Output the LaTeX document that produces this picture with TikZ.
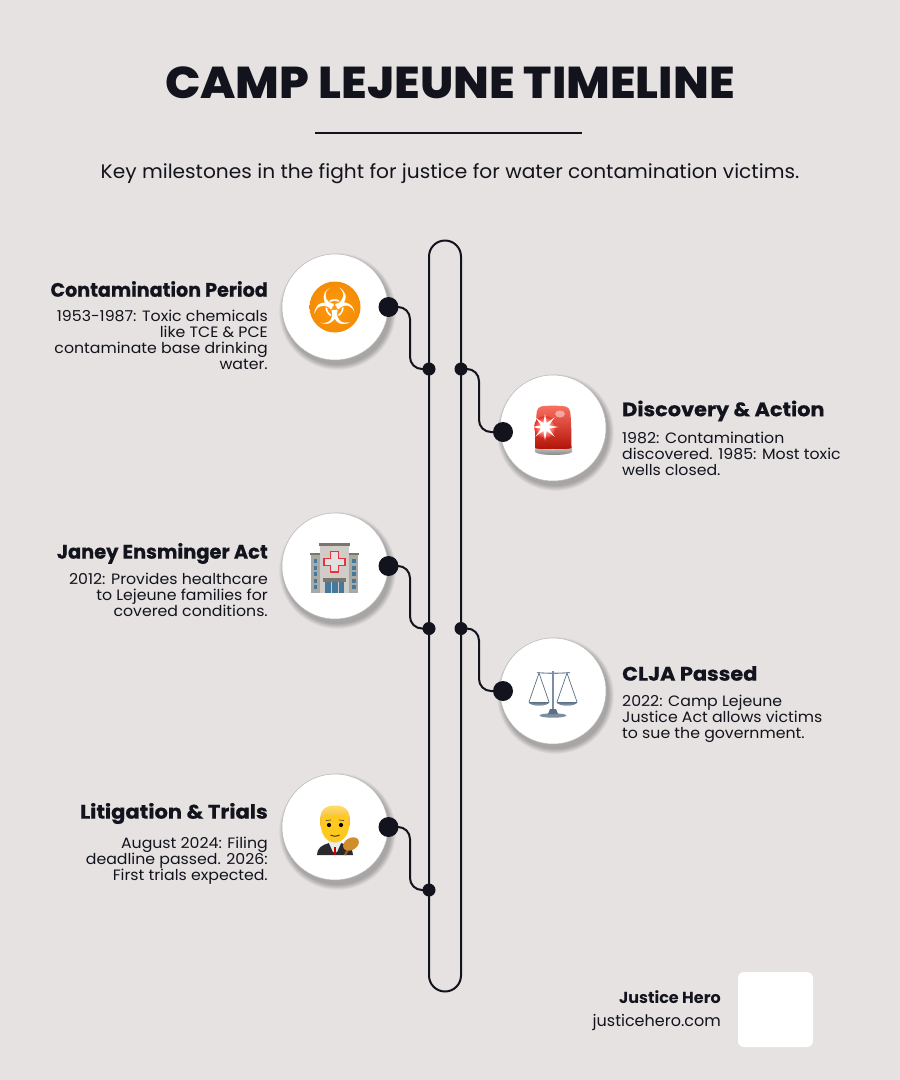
\documentclass[tikz,border=0pt]{standalone}
\usepackage{fontspec}
\usetikzlibrary{shapes.geometric}
\setmainfont{Poppins}
\newfontfamily\heavyfont{Poppins ExtraBold}[FakeStretch=1.05]
\newfontfamily\headfont{Poppins}[FakeBold=0.6]
\newfontfamily\bodyfont{Poppins}[FakeStretch=1.05]
\newfontfamily\subfont{Poppins}[FakeStretch=1.034]
\newfontfamily\symbolfont{DejaVu Sans}
\definecolor{pagebg}{HTML}{E5E2E1}
\definecolor{ink}{HTML}{12131C}
\definecolor{bioorange}{HTML}{FF9A0A}
\definecolor{bioedge}{HTML}{F48C06}
\definecolor{sirentop}{HTML}{F87060}
\definecolor{sirenmid}{HTML}{EE2A1E}
\definecolor{sirenlow}{HTML}{B31208}
\definecolor{bldgmain}{HTML}{D0CDC9}
\definecolor{bldgwing}{HTML}{A8A9A3}
\definecolor{bldgcap}{HTML}{7B756E}
\definecolor{glass}{HTML}{45789A}
\definecolor{crossred}{HTML}{E9323E}
\definecolor{steel}{HTML}{7A8FA3}
\definecolor{steeldark}{HTML}{5B7084}
\definecolor{skin}{HTML}{FFC81F}
\definecolor{hairlight}{HTML}{FFDC6A}
\definecolor{hairdark}{HTML}{EFAE1E}
\definecolor{suit}{HTML}{2A2A2E}
\definecolor{gavelwood}{HTML}{D08D2C}
\tikzset{
  track/.style={draw=ink,line width=2pt,rounded corners=16pt,minimum width=32pt,minimum height=751pt,inner sep=0,outer sep=0},
  conn/.style={draw=ink,line width=2pt,rounded corners=12pt},
  bigdot/.style={circle,fill=ink,minimum size=20pt,inner sep=0,outer sep=0},
  smalldot/.style={circle,fill=ink,minimum size=13pt,inner sep=0,outer sep=0},
  disc/.style={circle,fill=white,draw=black!28,line width=0.5pt,minimum size=106pt,inner sep=0,outer sep=0},
  headl/.style={anchor=east,inner sep=0,text=ink,font=\fontsize{19.5}{20}\headfont\bfseries},
  headr/.style={anchor=west,inner sep=0,text=ink,font=\fontsize{19.5}{20}\headfont\bfseries},
  bodyl/.style={anchor=north east,inner sep=0,align=right,text=ink,font=\fontsize{15}{16}\bodyfont},
  bodyr/.style={anchor=north west,inner sep=0,align=left,text=ink,font=\fontsize{15}{16}\bodyfont},
}
\newcommand{\softdisc}[3]{%
  \foreach \r in {0,1,...,7}{\fill[black,opacity=0.035] (#2+2.5,#3+4.5) circle ({53.5+\r*0.7});}
  \node[disc] (#1) at (#2,#3) {};}
\newcommand{\stretched}[2]{{\addfontfeatures{FakeStretch=#1}#2}}
\begin{document}
\begin{tikzpicture}[x=1pt,y=-1pt]
\useasboundingbox (0,0) rectangle (900,1080);
\fill[pagebg] (0,0) rectangle (900,1080);
% header
\node[inner sep=0,text=ink,font=\fontsize{44.6}{47}\heavyfont] (title) at (450,83) {CAMP LEJEUNE TIMELINE};
\coordinate (ruleL) at (315,132.5);
\coordinate (ruleR) at (582,132.5);
\draw[ink,line width=2pt] (ruleL) -- (ruleR);
\node[inner sep=0,text=ink,font=\fontsize{19.5}{22}\subfont] (sub) at (450,174) {Key milestones in the fight for justice for water contamination victims.};
% track
\node[track] (trk) at (445,616) {};
% discs
\softdisc{c1}{335}{307}
\softdisc{c2}{553}{428}
\softdisc{c3}{335}{566}
\softdisc{c4}{553}{691}
\softdisc{c5}{335}{827}
% dots
\node[bigdot] (b1) at (388.5,307) {};
\node[bigdot] (b2) at (503,432) {};
\node[bigdot] (b3) at (388.5,566) {};
\node[bigdot] (b4) at (503,691) {};
\node[bigdot] (b5) at (388.5,827) {};
\node[smalldot] (s1) at (429,369) {};
\node[smalldot] (s2) at (461,369) {};
\node[smalldot] (s3) at (429,628.5) {};
\node[smalldot] (s4) at (461,628.5) {};
\node[smalldot] (s5) at (429,890) {};
\coordinate (j1) at (410,340);
\coordinate (j2) at (479,400);
\coordinate (j3) at (410,600);
\coordinate (j4) at (479,660);
\coordinate (j5) at (410,860);
\draw[conn] (b1.center) -| (j1) |- (s1.center);
\draw[conn] (s2.center) -| (j2) |- (b2.center);
\draw[conn] (b3.center) -| (j3) |- (s3.center);
\draw[conn] (s4.center) -| (j4) |- (b4.center);
\draw[conn] (b5.center) -| (j5) |- (s5.center);
% texts
\node[headl] (h1) at (268,289) {\stretched{0.98}{Contamination Period}};
\node[bodyl] (t1) at (268,309.5) {1953-1987: Toxic chemicals\\like TCE \& PCE\\contaminate base drinking\\water.};
\node[headr] (h2) at (622,411) {\stretched{1.07}{Discovery \& Action}};
\node[bodyr] (t2) at (622,431.5) {1982: Contamination\\discovered. 1985: Most toxic\\wells closed.};
\node[headl] (h3) at (268,553.5) {\stretched{0.995}{Janey Ensminger Act}};
\node[bodyl] (t3) at (268,572.5) {2012: Provides healthcare\\to Lejeune families for\\covered conditions.};
\node[headr] (h4) at (622,673.5) {\stretched{1.07}{CLJA Passed}};
\node[bodyr] (t4) at (622,694.5) {2022: Camp Lejeune\\Justice Act allows victims\\to sue the government.};
\node[headl] (h5) at (268,813.5) {\stretched{1.08}{Litigation \& Trials}};
\node[bodyl] (t5) at (268,836.5) {August 2024: Filing\\deadline passed. 2026:\\First trials expected.};
% footer
\node[anchor=east,inner sep=0,text=ink,font=\fontsize{16}{17}\selectfont\bfseries] (f1) at (721,997) {Justice Hero};
\node[anchor=east,inner sep=0,text=ink,font=\fontsize{16}{18}\selectfont] (f2) at (721,1022.5) {justicehero.com};
\node[fill=white,rounded corners=6pt,minimum size=75pt,inner sep=0] (logo) at (775.5,1009.5) {};
% biohazard
\shade[inner color=bioorange,outer color=bioedge] (335,307) circle (25.5);
\node[inner sep=0,text=white,font=\fontsize{50}{50}\symbolfont] (bio) at (335,306) {☣};
% siren
\shade[top color=sirentop,middle color=sirenmid,bottom color=sirenlow] (535.5,449) .. controls (535.5,430) and (536,415) .. (537,411) .. controls (538,406) and (542,405.7) .. (553,405.7) .. controls (564,405.7) and (569,406) .. (570,411) .. controls (571,415) and (571.5,430) .. (571.5,449) -- cycle;
\shade[top color=black!25,bottom color=black!50] (535,448) .. controls (536,450) and (570,450) .. (572,448) -- (572,452) .. controls (568,456) and (539,456) .. (535,452) -- cycle;
\shade[inner color=white,outer color=sirenmid] (545,427) circle (11);
\node[star,star points=8,star point ratio=3.2,fill=white,minimum size=27pt,inner sep=0] (flash) at (545,427) {};
\fill[white,opacity=0.45] (560,414) ellipse (5 and 3.5);
% hospital
\fill[bldgwing] (311,554) rectangle (358,593);
\fill[bldgcap] (310,552.5) rectangle (359,555);
\fill[bldgmain] (320,545) rectangle (349,593);
\fill[bldgcap] (319,543) rectangle (350,546);
\foreach \yy in {559,565.5,572,578.5,585}{
  \fill[glass] (313.5,\yy) rectangle (317,\yy+4.3);
  \fill[glass] (352,\yy) rectangle (355.5,\yy+4.3);}
\draw[crossred,line width=1.3pt,fill=bldgmain!60!white] (330.5,551.5) -- (338.5,551.5) -- (338.5,558.5) -- (345,558.5) -- (345,565.5) -- (338.5,565.5) -- (338.5,572) -- (330.5,572) -- (330.5,565.5) -- (324,565.5) -- (324,558.5) -- (330.5,558.5) -- cycle;
\fill[bldgcap] (322.5,578) rectangle (346,582);
\fill[glass] (324.5,582) rectangle (344,593);
\draw[black!20,line width=0.6pt] (331,582) -- (331,593) (338,582) -- (338,593);
% scales
\draw[steel,line width=1.8pt] (553,671) -- (553,714);
\draw[steel,line width=1.1pt] (537,672.5) .. controls (545,673.5) and (561,673.5) .. (570,672.5);
\draw[steeldark,line width=0.7pt] (539,673) -- (529,702) (539,673) -- (549,702) (567,673) -- (557,702) (567,673) -- (577,702);
\shade[top color=steeldark,bottom color=steel!60!white] (528.5,702) -- (549.5,702) .. controls (548,707) and (530,707) .. (528.5,702) -- cycle;
\shade[top color=steeldark,bottom color=steel!60!white] (556.5,702) -- (577.5,702) .. controls (576,707) and (558,707) .. (556.5,702) -- cycle;
\fill[steel] (553,715.5) ellipse (13.5 and 2.2);
\fill[steeldark] (550,709) -- (556,709) -- (558,714) -- (548,714) -- cycle;
% judge
\fill[suit] (317,855) .. controls (317,848) and (322,845) .. (329,843) -- (341,843) .. controls (348,845) and (353,848) .. (353,855) -- cycle;
\fill[black!8] (328,841) -- (342,841) -- (337,852) -- (333,852) -- cycle;
\fill[red!80!black] (333.7,847) rectangle (336.3,855);
\fill[skin] (335,825.5) ellipse (14 and 17);
\shade[top color=hairlight,bottom color=hairdark] (320.5,827) .. controls (318,809) and (326,805.5) .. (335,805.5) .. controls (344,805.5) and (352,809) .. (349.5,827) .. controls (348.5,820) and (347,816) .. (345,814) .. controls (338,816) and (330,816) .. (325,814) .. controls (323,816) and (321.5,820) .. (320.5,827) -- cycle;
\fill[black] (329,825) circle (2.1);
\fill[black] (341,825) circle (2.1);
\draw[black!70,line width=0.7pt] (326,820.5) -- (331,820) (339,820) -- (344,820.5);
\draw[black!80,line width=1pt] (330.5,835) .. controls (333,836.5) and (337,836.5) .. (339.5,835);
\draw[gavelwood!70!black,line width=2pt] (345,855) -- (350,845);
\node[ellipse,rotate=30,fill=gavelwood,minimum width=17pt,minimum height=12pt,inner sep=0] (gavel) at (351,844) {};
\end{tikzpicture}
\end{document}
